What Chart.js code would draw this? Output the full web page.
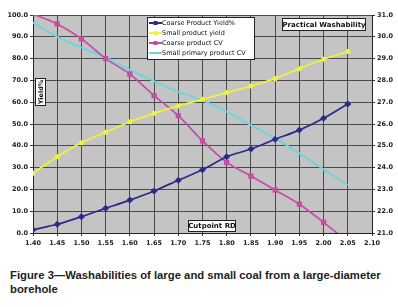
<!DOCTYPE html>
<html><head><meta charset="utf-8">
<script src="https://cdn.jsdelivr.net/npm/chart.js@4/dist/chart.umd.min.js"></script>
<style>
body{margin:0;background:#fff;width:398px;height:307px;overflow:hidden;position:relative}
#c{position:absolute;left:0;top:0}
#cap{position:absolute;left:10px;top:268px;width:388px;white-space:nowrap;font:bold 11.3px "Liberation Sans",Arial,sans-serif;line-height:14px;color:#222}
</style></head><body>
<canvas id="c" width="398" height="250"></canvas>
<div id="cap">Figure 3—Washabilities of large and small coal from a large-diameter<br>borehole</div>
<script>
const cutpoints = [1.40,1.45,1.50,1.55,1.60,1.65,1.70,1.75,1.80,1.85,1.90,1.95,2.00,2.05];
const coarseYield = [1.5,4.0,7.5,11.3,15.1,19.3,24.2,29.0,35.0,38.5,43.0,47.2,52.6,59.2];
const smallYield = [27.4,35.0,41.4,46.2,51.0,54.9,58.3,61.3,64.4,67.4,70.8,75.4,79.7,83.2];
const coarseCV = [31.05,30.59,29.91,29.0,28.29,27.3,26.38,25.23,24.24,23.61,22.97,22.32,21.49,20.6];
const smallCV = [30.65,30.0,29.5,29.06,28.48,27.97,27.48,27.08,26.56,25.95,25.34,24.66,23.92,23.2];
const seriesNames = ["Coarse Product Yield%","Small product yield","Coarse product CV","Small primary product CV"];

const tickFont = {family:"DejaVu Sans", size:6.5, weight:"bold"};
const pts = arr => arr.map((v,i)=>({x:cutpoints[i], y:v}));

const bgPlugin = {
  id:'bg',
  beforeDraw(chart){
    const {ctx, chartArea:a} = chart;
    ctx.save(); ctx.fillStyle='#c4c4c4';
    ctx.fillRect(a.left,a.top,a.right-a.left,a.bottom-a.top); ctx.restore();
  }
};

function box(ctx,x,y,w,h){
  ctx.fillStyle='#fff'; ctx.fillRect(x,y,w,h);
  ctx.strokeStyle='#222'; ctx.lineWidth=1; ctx.strokeRect(x+0.5,y+0.5,w-1,h-1);
  ctx.fillStyle='#111';
}

const annoPlugin = {
  id:'anno',
  afterDraw(chart){
    const ctx = chart.ctx;
    ctx.save();
    // legend
    box(ctx,147,17,108,43);
    ctx.font = '6.5px "DejaVu Sans"';
    ctx.textBaseline='middle'; ctx.textAlign='left';
    chart.data.datasets.forEach((ds,i)=>{
      const yy = 23 + i*10;
      ctx.strokeStyle = ds.borderColor; ctx.lineWidth=2;
      ctx.beginPath(); ctx.moveTo(149,yy); ctx.lineTo(162,yy); ctx.stroke();
      ctx.fillStyle = ds.borderColor;
      if (ds.pointRadius>0){ ctx.fillRect(153.5,yy-2,4,4); }
      ctx.fillStyle='#111';
      ctx.fillText(ds.label,162,yy+0.5);
    });
    // practical washability
    box(ctx,282,18,84,13);
    ctx.font='bold 7px "DejaVu Sans"'; ctx.textAlign='center';
    ctx.fillText('Practical Washability',324,25);
    // cutpoint
    box(ctx,188,220,48,12);
    ctx.font='bold 7px "DejaVu Sans"'; ctx.textAlign='center';
    ctx.fillText('Cutpoint RD',212,226.5);
    // yield label
    box(ctx,35,78,11,28);
    ctx.translate(40.5,92); ctx.rotate(-Math.PI/2);
    ctx.font='bold 6.5px "DejaVu Sans"'; ctx.textAlign='center';
    ctx.fillText('Yield%',0,0.5);
    ctx.restore();
  }
};

new Chart(document.getElementById('c'),{
  type:'line',
  data:{datasets:[
    {label:seriesNames[0], data:pts(coarseYield), yAxisID:'y', borderColor:'#2a2a8a', backgroundColor:'#2a2a8a', borderWidth:1.7, pointStyle:'rectRot', pointRadius:2.3, tension:0.3},
    {label:seriesNames[1], data:pts(smallYield), yAxisID:'y', borderColor:'#f2f23c', backgroundColor:'#f2f23c', borderWidth:1.7, pointStyle:'star', pointRadius:2.5, tension:0.3},
    {label:seriesNames[2], data:pts(coarseCV), yAxisID:'y1', borderColor:'#c94aa6', backgroundColor:'#c94aa6', borderWidth:1.7, pointStyle:'rect', pointRadius:2.5, tension:0.3},
    {label:seriesNames[3], data:pts(smallCV), yAxisID:'y1', borderColor:'#6ad6de', backgroundColor:'#6ad6de', borderWidth:1.9, pointStyle:'circle', pointRadius:0, tension:0.3}
  ]},
  options:{
    responsive:false, animation:false, devicePixelRatio:1,
    layout:{padding:{top:15,left:0,right:0,bottom:0}},
    plugins:{legend:{display:false}, tooltip:{enabled:false}},
    scales:{
      x:{type:'linear', min:1.4, max:2.1,
         ticks:{stepSize:0.05, callback:v=>Number(v).toFixed(2), font:tickFont, color:'#222', padding:3, maxRotation:0, autoSkip:false},
         grid:{color:'#4a4a4a', lineWidth:1, tickLength:3, tickColor:'#333'},
         border:{color:'#222'},
         afterFit(s){s.height=17;}},
      y:{position:'left', min:0, max:100,
         ticks:{stepSize:10, callback:v=>Number(v).toFixed(1), font:tickFont, color:'#222', padding:2},
         grid:{color:'#4a4a4a', lineWidth:1, tickLength:3, tickColor:'#333'},
         border:{color:'#222'},
         afterFit(s){s.width=33;}},
      y1:{position:'right', min:21, max:31,
         ticks:{stepSize:1, callback:v=>Number(v).toFixed(1), font:tickFont, color:'#222', padding:2},
         grid:{drawOnChartArea:false, tickLength:3, tickColor:'#333'},
         border:{color:'#222'},
         afterFit(s){s.width=26;}}
    }
  },
  plugins:[bgPlugin, annoPlugin]
});
</script>
</body></html>
